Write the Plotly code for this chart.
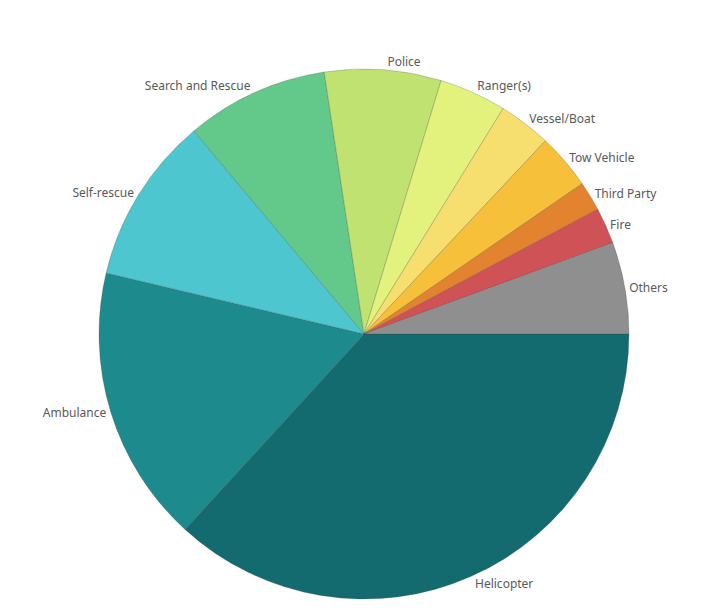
import plotly.graph_objects as go

labels = ["Helicopter", "Ambulance", "Self-rescue", "Search and Rescue", "Police",
          "Ranger(s)", "Vessel/Boat", "Tow Vehicle", "Third Party", "Fire", "Others"]
values = [36.8, 16.9, 10.2, 8.7, 7.1, 4.1, 3.2, 3.4, 1.8, 2.2, 5.6]
colors = ["#136b6f", "#1d8a8e", "#4ec6d0", "#62c98a", "#c0e270", "#e3f27d",
          "#f7df6f", "#f6c03a", "#e4832f", "#cf5356", "#8f8f8f"]

fig = go.Figure(go.Pie(
    labels=labels, values=values, sort=False, direction="clockwise", rotation=90,
    marker=dict(colors=colors, line=dict(color="rgba(60,60,60,0.35)", width=0.7)),
    textinfo="label", textposition="outside",
    textfont=dict(family="Noto Sans", size=12, color="#595959"),
    hole=0, showlegend=False,
    domain=dict(x=[0.0, 1.0], y=[0.0, 1.0]),
))
fig.update_layout(
    width=718, height=611, paper_bgcolor="white", plot_bgcolor="white",
    margin=dict(l=91, r=97, t=61, b=20, autoexpand=False),
    showlegend=False,
)
fig.write_html("out.html")
